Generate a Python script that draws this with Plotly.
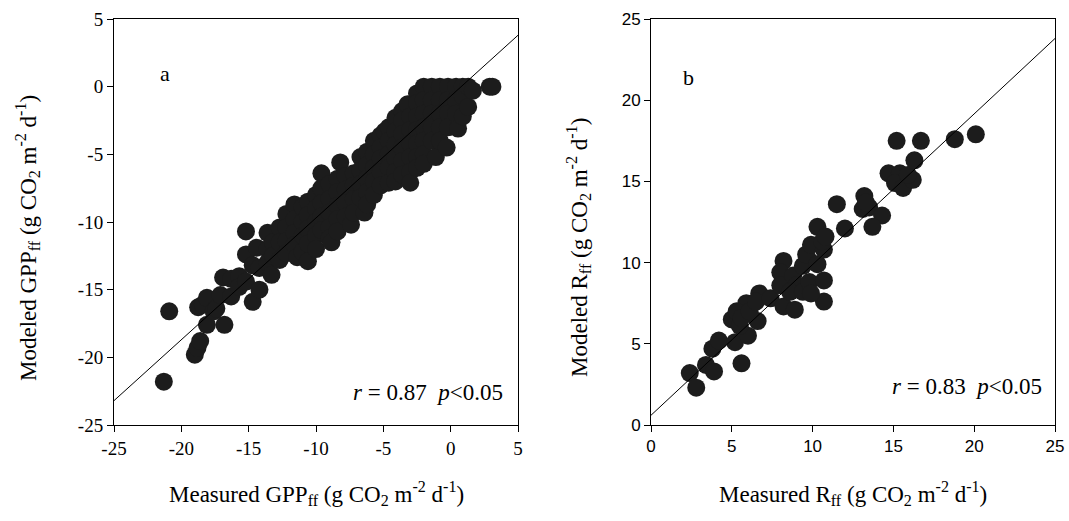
import plotly.graph_objects as go

# ---------------- Panel a data (GPP_ff) ----------------
gpp_measured = [
    -21.3, -20.9, -19.0, -18.8, -18.6, -18.75, -18.4, -18.1, -18.1, -17.6, -17.4, -17.1, -16.9, -16.8,
    -16.3, -16.3, -15.7, -15.7, -15.2, -15.2, -15.2, -14.7, -14.7, -14.4, -14.2, -14.2,
    -13.6, -13.6, -13.6, -13.3, -13.2, -13.2, -12.7, -12.7, -12.7, -12.2, -12.2, -12.2, -12.2,
    -11.6, -11.6, -11.6, -11.6, -11.4, -11.0, -11.0, -11.0, -11.0, -10.6, -10.6, -10.6, -10.6, -10.6,
    -10.0, -10.0, -10.0, -10.0, -10.0, -9.6, -9.6, -9.6, -9.6, -9.6, -9.0, -9.0, -9.0, -9.0, -9.0, -8.85,
    -8.4, -8.4, -8.4, -8.4, -8.4, -8.2, -7.8, -7.8, -7.8, -7.8, -7.4, -7.2, -7.2, -7.2, -7.2,
    -6.7, -6.7, -6.7, -6.7, -6.4, -6.2, -6.2, -6.2, -6.2, -6.2, -5.7, -5.7, -5.7, -5.7, -5.7,
    -5.2, -5.2, -5.2, -5.2, -5.2, -4.9, -4.6, -4.6, -4.6, -4.6, -4.6,
    -4.1, -4.1, -4.1, -4.1, -4.1, -4.1, -3.6, -3.6, -3.6, -3.6, -3.6, -3.6, -3.2,
    -3.0, -3.0, -3.0, -3.0, -3.0, -3.0, -2.5, -2.5, -2.5, -2.5, -2.5, -2.5, -2.5,
    -2.0, -2.0, -2.0, -2.0, -2.0, -2.0, -2.0, -1.4, -1.4, -1.4, -1.4, -1.4, -1.1,
    -0.8, -0.8, -0.8, -0.8, -0.8, -0.3, -0.2, -0.2, -0.2, -0.2, 0.4, 0.4, 0.4, 0.55,
    0.9, 0.9, 0.9, 1.3, 1.3, 1.65, 2.9, 3.1,
]
gpp_modeled = [
    -21.8, -16.6, -19.8, -19.3, -18.8, -16.3, -16.1, -15.6, -17.6, -16.6, -16.4, -15.4, -14.1, -17.6,
    -15.5, -14.2, -14.0, -14.8, -14.4, -10.7, -12.4, -15.9, -13.2, -11.9, -15.0, -13.4,
    -10.8, -12.0, -13.0, -13.9, -11.5, -12.5, -10.4, -11.5, -12.8, -9.4, -10.4, -11.4, -12.3,
    -8.7, -9.8, -10.8, -11.7, -12.6, -8.9, -10.0, -11.0, -12.2, -12.9, -8.5, -9.5, -10.5, -11.6,
    -8.0, -9.0, -10.0, -11.0, -12.0, -6.4, -7.5, -8.6, -9.6, -10.6, -7.2, -8.3, -9.3, -10.4, -11.2, -11.5,
    -6.8, -7.8, -8.8, -9.8, -10.7, -5.6, -6.6, -7.6, -8.6, -9.6, -10.2, -6.4, -7.3, -8.3, -9.3,
    -5.2, -6.2, -7.2, -8.2, -9.3, -4.8, -5.8, -6.8, -7.8, -8.7, -4.0, -5.0, -6.0, -7.0, -8.0,
    -3.6, -4.5, -5.3, -6.3, -7.3, -3.3, -3.0, -4.0, -5.0, -6.0, -7.1,
    -2.3, -3.3, -4.3, -5.3, -6.3, -7.0, -1.8, -2.5, -3.5, -4.5, -5.5, -6.5, -1.3,
    -2.2, -3.2, -4.2, -5.2, -6.3, -7.1, -0.5, -1.2, -2.2, -3.2, -4.2, -5.2, -6.0,
    0.0, -1.0, -2.0, -3.0, -4.0, -5.0, -5.7, 0.0, -1.0, -2.0, -3.0, -4.0, -5.2,
    0.0, -1.0, -2.0, -3.0, -4.0, -4.5, 0.0, -1.0, -2.0, -3.0, 0.0, -1.0, -2.0, -3.1,
    0.0, -0.7, -2.2, 0.0, -1.5, -0.3, 0.0, 0.0,
]
fit_a_slope = 0.9
fit_a_intercept = -0.7
axis_a_range = [-25, 5]
ticks_a = [-25, -20, -15, -10, -5, 0, 5]
ticklabels_a = ["-25", "-20", "-15", "-10", "-5", "0", "5"]

# ---------------- Panel b data (R_ff) ----------------
r_measured = [
    2.4, 2.8, 3.4, 3.9, 3.8, 4.2, 5.2, 5.6, 5.0, 6.0, 6.6, 5.9, 6.7, 5.3, 5.5, 5.6, 6.1, 6.5,
    7.4, 8.2, 8.0, 8.0, 8.8, 8.2, 8.9, 9.0, 8.6, 9.4, 9.8, 10.7, 10.7, 9.9, 9.8, 9.4, 9.6,
    9.9, 10.3, 10.7, 10.6, 10.3, 10.8, 11.5, 12.0, 13.2, 13.1, 13.5, 13.3, 14.3, 13.7,
    14.7, 15.4, 15.1, 15.6, 16.2, 15.9, 16.3, 15.2, 16.7, 18.8, 20.1,
]
r_modeled = [
    3.2, 2.3, 3.7, 3.3, 4.7, 5.2, 5.1, 3.8, 6.5, 5.5, 6.4, 7.5, 8.1, 7.0, 6.1, 6.6, 7.0, 7.6,
    7.8, 10.1, 9.4, 8.6, 9.2, 7.3, 7.1, 8.6, 8.2, 8.2, 8.8, 8.9, 7.6, 8.1, 10.1, 9.8, 10.5,
    11.1, 9.9, 10.8, 11.3, 12.2, 11.6, 13.6, 12.1, 14.1, 13.3, 13.4, 13.7, 12.9, 12.2,
    15.5, 15.5, 14.9, 14.6, 15.1, 15.4, 16.3, 17.5, 17.5, 17.6, 17.9,
]
fit_b_slope = 0.928
fit_b_intercept = 0.6
axis_b_range = [0, 25]
ticks_b = [0, 5, 10, 15, 20, 25]
ticklabels_b = ["0", "5", "10", "15", "20", "25"]

MARKER = "#1c1c1c"
SERIF = "Liberation Serif, Times New Roman, serif"
SANS = "Liberation Sans, Arial, sans-serif"
MSIZE = 18

# the page body margin is removed (post_script), so the figure fills the window
W, H = 1069, 521
OFF = 0


def px(xpage):
    return (xpage - OFF) / W


def py(ypage):
    return 1 - (ypage - OFF) / H


fig = go.Figure()

fig.add_trace(go.Scatter(x=gpp_measured, y=gpp_modeled, mode="markers",
                         marker=dict(size=MSIZE, color=MARKER, line=dict(width=0)),
                         xaxis="x", yaxis="y", showlegend=False, hoverinfo="skip"))
fig.add_trace(go.Scatter(x=axis_a_range,
                         y=[fit_a_slope * v + fit_a_intercept for v in axis_a_range],
                         mode="lines", line=dict(color="black", width=1),
                         xaxis="x", yaxis="y", showlegend=False, hoverinfo="skip"))

fig.add_trace(go.Scatter(x=r_measured, y=r_modeled, mode="markers",
                         marker=dict(size=MSIZE, color=MARKER, line=dict(width=0)),
                         xaxis="x2", yaxis="y2", showlegend=False, hoverinfo="skip"))
fig.add_trace(go.Scatter(x=axis_b_range,
                         y=[fit_b_slope * v + fit_b_intercept for v in axis_b_range],
                         mode="lines", line=dict(color="black", width=1),
                         xaxis="x2", yaxis="y2", showlegend=False, hoverinfo="skip"))

common = dict(showgrid=False, zeroline=False, showline=True, linecolor="black", linewidth=1,
              mirror=True, ticks="outside", ticklen=6, tickwidth=1, tickcolor="black",
              automargin=False, tickmode="array")

ydom = [py(425), py(19)]
fig.update_layout(
    width=W, height=H,
    margin=dict(l=0, r=0, t=0, b=0, pad=0),
    paper_bgcolor="white", plot_bgcolor="white",
    xaxis=dict(domain=[px(114), px(518)], range=axis_a_range, tickvals=ticks_a, ticktext=ticklabels_a,
               tickfont=dict(family=SERIF, size=19, color="black"), anchor="y", **common),
    yaxis=dict(domain=ydom, range=axis_a_range, tickvals=ticks_a, ticktext=ticklabels_a,
               tickfont=dict(family=SERIF, size=19, color="black"), anchor="x", **common),
    xaxis2=dict(domain=[px(651), px(1055)], range=axis_b_range, tickvals=ticks_b, ticktext=ticklabels_b,
                tickfont=dict(family=SANS, size=17, color="black"), anchor="y2", **common),
    yaxis2=dict(domain=ydom, range=axis_b_range, tickvals=ticks_b, ticktext=ticklabels_b,
                tickfont=dict(family=SANS, size=17, color="black"), anchor="x2", **common),
)

title_font = dict(family=SERIF, size=23, color="black")
fig.add_annotation(text="Measured GPP<sub>ff</sub> (g CO<sub>2</sub> m<sup>-2</sup> d<sup>-1</sup>)",
                   x=px(316), y=py(493), xref="paper", yref="paper", showarrow=False,
                   font=title_font, xanchor="center", yanchor="middle")
fig.add_annotation(text="Measured R<sub>ff</sub> (g CO<sub>2</sub> m<sup>-2</sup> d<sup>-1</sup>)",
                   x=px(853), y=py(493), xref="paper", yref="paper", showarrow=False,
                   font=title_font, xanchor="center", yanchor="middle")
fig.add_annotation(text="Modeled GPP<sub>ff</sub> (g CO<sub>2</sub> m<sup>-2</sup> d<sup>-1</sup>)",
                   x=px(27), y=py(238), xref="paper", yref="paper", showarrow=False,
                   font=title_font, textangle=-90, xanchor="center", yanchor="middle")
fig.add_annotation(text="Modeled R<sub>ff</sub> (g CO<sub>2</sub> m<sup>-2</sup> d<sup>-1</sup>)",
                   x=px(578), y=py(248), xref="paper", yref="paper", showarrow=False,
                   font=title_font, textangle=-90, xanchor="center", yanchor="middle")

label_font = dict(family=SERIF, size=22, color="black")
stat_font = dict(family=SERIF, size=23, color="black")
fig.add_annotation(text="a", x=-21.2, y=1.0, xref="x", yref="y", showarrow=False,
                   font=label_font, xanchor="center", yanchor="middle")
fig.add_annotation(text="b", x=2.3, y=21.4, xref="x2", yref="y2", showarrow=False,
                   font=label_font, xanchor="center", yanchor="middle")
fig.add_annotation(text="<i>r</i> = 0.87  <i>p</i><0.05", x=4.0, y=-22.6, xref="x", yref="y",
                   showarrow=False, font=stat_font, xanchor="right", yanchor="middle")
fig.add_annotation(text="<i>r</i> = 0.83  <i>p</i><0.05", x=24.3, y=2.4, xref="x2", yref="y2",
                   showarrow=False, font=stat_font, xanchor="right", yanchor="middle")

fig.write_html("out.html", config={"displayModeBar": False},
               post_script="document.body.style.margin='0';document.body.style.overflow='hidden';")
